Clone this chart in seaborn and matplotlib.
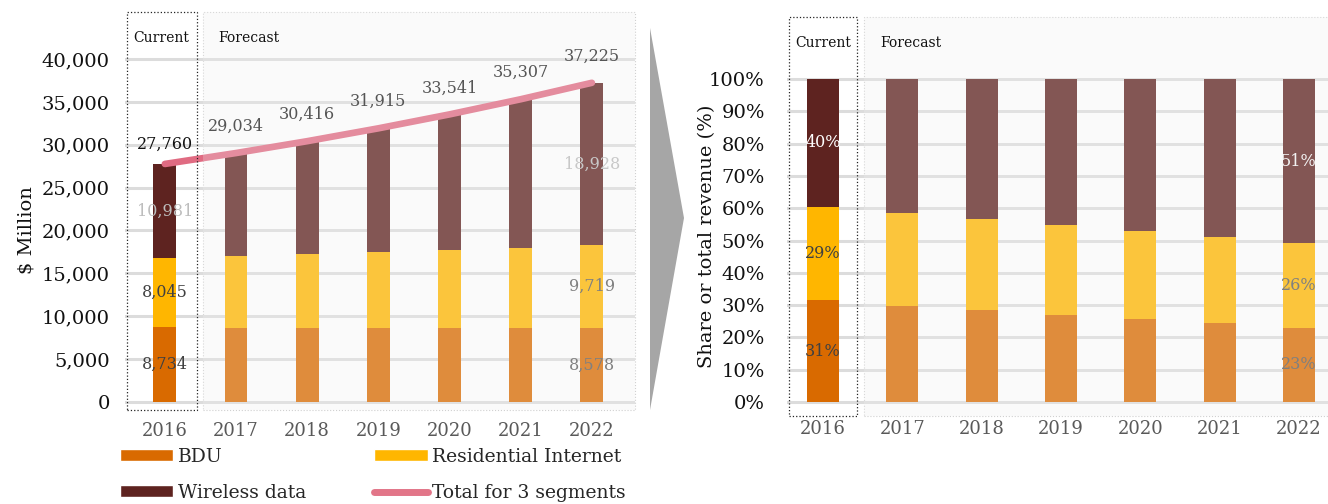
import numpy as np
import pandas as pd
import matplotlib
matplotlib.use('Agg')
import matplotlib.pyplot as plt
import seaborn as sns
from matplotlib.patches import Rectangle, Polygon, Patch
from matplotlib.lines import Line2D

# data ($ million)
years = ['2016', '2017', '2018', '2019', '2020', '2021', '2022']
bdu = [8734, 8650, 8640, 8620, 8600, 8590, 8578]
res_internet = [8045, 8335, 8606, 8870, 9143, 9416, 9719]
wireless = [10981, 12049, 13170, 14425, 15798, 17301, 18928]

df = pd.DataFrame({'year': years, 'BDU': bdu, 'Residential Internet': res_internet,
                   'Wireless data': wireless})
df['total'] = df['BDU'] + df['Residential Internet'] + df['Wireless data']
shares = df[['BDU', 'Residential Internet', 'Wireless data']].div(df['total'], axis=0) * 100

C_BDU = '#D96A00'
C_RI = '#FFB600'
C_WL = '#5E2320'
C_LINE = '#E06B82'
GRID = '#DCDCDC'

sns.set_style('white')
plt.rcParams['font.family'] = ['DejaVu Serif']

W, H = 1328, 504
fig = plt.figure(figsize=(W / 100, H / 100), dpi=100)


def px_axes(l, t, r, b):
    return fig.add_axes([l / W, 1 - b / H, (r - l) / W, (b - t) / H])


def panel_frame(ax, cur, fc):
    # "Current" dotted box, "Forecast" light panel and the washing overlay
    ax.add_patch(Rectangle((fc[0], 0), fc[1] - fc[0], 1, transform=ax.transAxes,
                           facecolor='#FEFEFE', edgecolor='#D0D0D0', lw=0.8, ls=':',
                           zorder=0, clip_on=False))
    ax.add_patch(Rectangle((cur[0], 0), cur[1] - cur[0], 1, transform=ax.transAxes,
                           facecolor='none', edgecolor='#222222', lw=0.9, ls=':',
                           zorder=6, clip_on=False))
    ax.add_patch(Rectangle((fc[0], 0), fc[1] - fc[0], 1, transform=ax.transAxes,
                           facecolor='#F2F2F2', alpha=0.25, edgecolor='none',
                           zorder=4, clip_on=False))
    ax.text(cur[0] + 0.012, 0.935, 'Current', transform=ax.transAxes, fontsize=10,
            ha='left', va='center', color='#111111', zorder=7)
    ax.text(fc[0] + 0.03, 0.935, 'Forecast', transform=ax.transAxes, fontsize=10,
            ha='left', va='center', color='#111111', zorder=7)


def stacked(ax, a, b, c, width):
    kw = dict(saturation=1, width=width, errorbar=None, ax=ax, zorder=2,
              edgecolor='none', linewidth=0)
    sns.barplot(x=years, y=a, color=C_BDU, **kw)
    sns.barplot(x=years, y=b, bottom=np.array(a), color=C_RI, **kw)
    sns.barplot(x=years, y=c, bottom=np.array(a) + np.array(b), color=C_WL, **kw)


def style_axes(ax, ypad, xpad):
    sns.despine(ax=ax, left=True, bottom=True)
    ax.yaxis.grid(True, color=GRID, lw=2.2)
    ax.set_axisbelow(True)
    ax.tick_params(axis='y', length=0, pad=ypad, labelsize=14, labelcolor='#111111')
    ax.tick_params(axis='x', length=0, pad=xpad, labelsize=13, labelcolor='#595959')
    ax.set_xlabel('')
    ax.set_ylabel('')


# ---------------- left panel: $ million ----------------
ax1 = px_axes(125, 12, 635, 410)
stacked(ax1, df['BDU'], df['Residential Internet'], df['Wireless data'], 0.32)
sns.lineplot(x=np.arange(len(years)), y=df['total'], color=C_LINE, lw=4.8,
             solid_capstyle='round', ax=ax1, zorder=3)
ax1.set_xlim(-0.56, -0.56 + 510 / 71.17)
ax1.set_ylim(-933, 45481)
ax1.set_yticks(np.arange(0, 40001, 5000))
ax1.set_yticklabels([f'{v:,}' for v in range(0, 40001, 5000)])
style_axes(ax1, 11, 9)
panel_frame(ax1, (2 / 510, 72 / 510), (78 / 510, 1.0))

for i, tot in enumerate(df['total']):
    off = 8 if i == 0 else 13
    col = '#111111' if i == 0 else '#555555'
    ax1.annotate(f'{tot:,}', (i, tot), xytext=(0, off), textcoords='offset points',
                 ha='center', va='bottom', fontsize=11.5, color=col, zorder=7)

seg_cols = {0: ['#404040', '#404040', '#BDBDBD'], 6: ['#808080', '#808080', '#C8C8C8']}
for i, cols in seg_cols.items():
    a, b, c = bdu[i], res_internet[i], wireless[i]
    for val, mid, col in [(a, a / 2, cols[0]), (b, a + b / 2, cols[1]), (c, a + b + c / 2, cols[2])]:
        ax1.text(i, mid, f'{val:,}', ha='center', va='center', fontsize=11.5,
                 color=col, zorder=7)

fig.text(27 / W, 1 - 230 / H, '$ Million', rotation=90, ha='center', va='center',
         fontsize=14, color='#111111')

# ---------------- right panel: share % ----------------
ax2 = px_axes(787, 17, 1328, 416)
stacked(ax2, shares['BDU'], shares['Residential Internet'], shares['Wireless data'], 0.40)
ax2.set_xlim(-0.454, -0.454 + 541 / 79.33)
ax2.set_ylim(-4.33, 119.2)
ax2.set_yticks(np.arange(0, 101, 10))
ax2.set_yticklabels([f'{v}%' for v in range(0, 101, 10)])
style_axes(ax2, 16, 3)
panel_frame(ax2, (2 / 541, 70 / 541), (77 / 541, 1.02))

pct_cols = {0: ['#404040', '#404040', '#FFFFFF'], 6: ['#808080', '#808080', '#F2F2F2']}
for i, cols in pct_cols.items():
    a = shares['BDU'][i]
    b = shares['Residential Internet'][i]
    c = shares['Wireless data'][i]
    for val, mid, col in [(a, a / 2, cols[0]), (b, a + b / 2, cols[1]), (c, a + b + c / 2, cols[2])]:
        ax2.text(i, mid, f'{val:.0f}%', ha='center', va='center', fontsize=11.5,
                 color=col, zorder=7)

fig.text(707 / W, 1 - 236 / H, 'Share or total revenue (%)', rotation=90, ha='center',
         va='center', fontsize=14, color='#111111')

# grey chevron between the panels
pts = [(650, 28), (684, 218), (650, 410)]
fig.patches.append(Polygon([(x / W, 1 - y / H) for x, y in pts], closed=True,
                           transform=fig.transFigure, facecolor='#A6A6A6',
                           edgecolor='none'))

# legend
handles = [Patch(facecolor=C_BDU, label='BDU'),
           Patch(facecolor=C_WL, label='Wireless data'),
           Patch(facecolor=C_RI, label='Residential Internet'),
           Line2D([], [], color='#E27588', lw=5, solid_capstyle='round',
                  label='Total for 3 segments')]
fig.legend(handles=handles, ncol=2, loc='upper left', bbox_to_anchor=(120 / W, 1 - 448 / H),
           frameon=False, fontsize=13.5, handlelength=2.85, handleheight=0.6,
           handletextpad=0.26, columnspacing=3.6, labelspacing=0.95, borderpad=0,
           borderaxespad=0)

fig.savefig('out.png', dpi=100, facecolor='white')
